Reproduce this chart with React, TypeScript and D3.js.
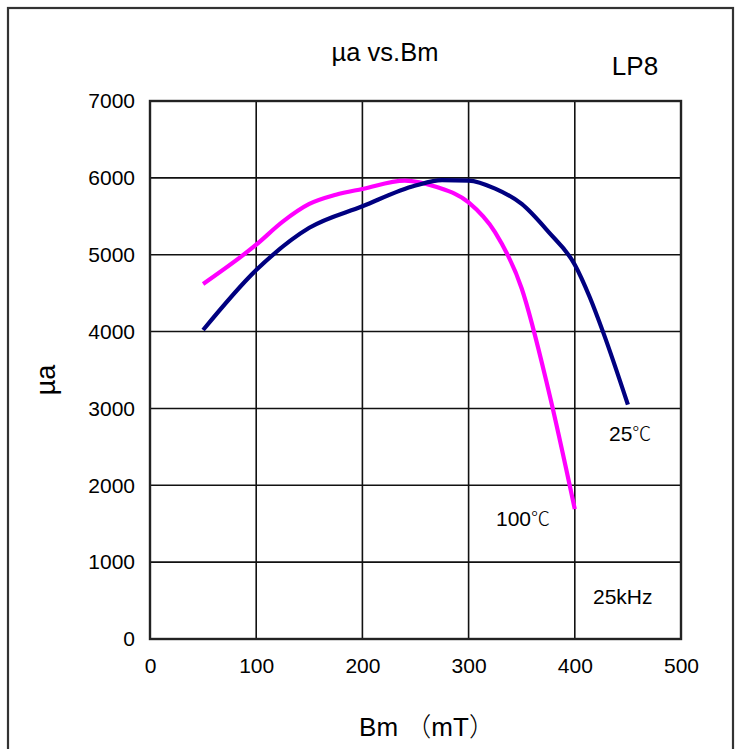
import * as d3 from "d3";
import React, { useEffect, useRef } from "react";

// Bm (mT) and ua values
const bm25 = [50, 100, 150, 200, 250, 275, 300, 325, 350, 375, 400, 414, 427, 450];
const mu25 = [4020, 4800, 5350, 5630, 5900, 5970, 5965, 5860, 5660, 5300, 4870, 4450, 3980, 3050];

const bm100 = [50, 100, 125, 150, 175, 200, 240, 270, 300, 325, 350, 375, 400];
const mu100 = [4620, 5130, 5430, 5660, 5780, 5855, 5965, 5880, 5680, 5290, 4560, 3250, 1690];

const xTicks = [0, 100, 200, 300, 400, 500];
const yTicks = [0, 1000, 2000, 3000, 4000, 5000, 6000, 7000];

const FONT = "Arial, 'Liberation Sans', sans-serif";

const App = () => {
  const svgRef = useRef<SVGSVGElement>(null);

  useEffect(() => {
    const width = 743;
    const height = 749;
    const svg = d3.select(svgRef.current);
    svg.selectAll("*").remove();
    svg.attr("width", width).attr("height", height);

    svg.append("rect")
      .attr("width", width).attr("height", height).attr("fill", "white");

    // outer frame (runs past the bottom edge)
    svg.append("rect")
      .attr("x", 8).attr("y", 8)
      .attr("width", 725).attr("height", 780)
      .attr("fill", "none")
      .attr("stroke", "#333")
      .attr("stroke-width", 2.2);

    const x = d3.scaleLinear().domain([0, 500]).range([150, 681]);
    const y = d3.scaleLinear().domain([0, 7000]).range([639, 101]);

    // grid
    const grid = svg.append("g");
    xTicks.slice(1, -1).forEach(t => {
      grid.append("line")
        .attr("x1", x(t)).attr("x2", x(t))
        .attr("y1", y(0)).attr("y2", y(7000))
        .attr("stroke", "#111").attr("stroke-width", 1.6);
    });
    yTicks.slice(1, -1).forEach(t => {
      grid.append("line")
        .attr("x1", x(0)).attr("x2", x(500))
        .attr("y1", y(t)).attr("y2", y(t))
        .attr("stroke", "#111").attr("stroke-width", 1.6);
    });

    // plot frame
    svg.append("rect")
      .attr("x", x(0)).attr("y", y(7000))
      .attr("width", x(500) - x(0)).attr("height", y(0) - y(7000))
      .attr("fill", "none")
      .attr("stroke", "#222")
      .attr("stroke-width", 2.4);

    // axes (labels only)
    const xAxis = svg.append("g")
      .attr("transform", `translate(0, ${y(0)})`)
      .call(d3.axisBottom(x).tickValues(xTicks).tickSize(0).tickPadding(19));
    xAxis.select(".domain").remove();
    xAxis.selectAll("text")
      .attr("fill", "#000")
      .attr("dy", "0.71em")
      .style("font-family", FONT)
      .style("font-size", "21px");

    const yAxis = svg.append("g")
      .attr("transform", `translate(${x(0)}, 0)`)
      .call(d3.axisLeft(y).tickValues(yTicks).tickSize(0).tickPadding(15)
        .tickFormat(d => String(d)));
    yAxis.select(".domain").remove();
    yAxis.selectAll("text")
      .attr("fill", "#000")
      .style("font-family", FONT)
      .style("font-size", "21px");

    // curves
    const line = d3.line<[number, number]>()
      .x(d => x(d[0]))
      .y(d => y(d[1]))
      .curve(d3.curveMonotoneX);

    svg.append("path")
      .datum(bm100.map((b, i) => [b, mu100[i]] as [number, number]))
      .attr("fill", "none")
      .attr("stroke", "#ff00ff")
      .attr("stroke-width", 4.2)
      .attr("d", line);

    svg.append("path")
      .datum(bm25.map((b, i) => [b, mu25[i]] as [number, number]))
      .attr("fill", "none")
      .attr("stroke", "#000080")
      .attr("stroke-width", 4.2)
      .attr("d", line);

    // titles and notes
    svg.append("text")
      .attr("x", 385).attr("y", 61)
      .attr("text-anchor", "middle")
      .style("font-family", FONT).style("font-size", "25.5px")
      .text("µa vs.Bm");

    svg.append("text")
      .attr("x", 635).attr("y", 75)
      .attr("text-anchor", "middle")
      .style("font-family", FONT).style("font-size", "26px")
      .text("LP8");

    svg.append("text")
      .attr("transform", "translate(55, 380) rotate(-90)")
      .attr("text-anchor", "middle")
      .style("font-family", FONT).style("font-size", "27px")
      .text("µa");

    const xLabel = svg.append("text")
      .attr("x", 427).attr("y", 736)
      .attr("text-anchor", "middle")
      .style("font-family", FONT).style("font-size", "26px");
    xLabel.append("tspan").text("Bm ");
    xLabel.append("tspan").style("font-family", "'Noto Sans CJK SC'").style("font-weight", 300).text("（");
    xLabel.append("tspan").text("mT");
    xLabel.append("tspan").style("font-family", "'Noto Sans CJK SC'").style("font-weight", 300).text("）");

    const tempLabel = (tx: number, ty: number, num: string) => {
      const t = svg.append("text")
        .attr("x", tx).attr("y", ty)
        .style("font-family", FONT).style("font-size", "21px");
      t.append("tspan").text(num);
      t.append("tspan")
        .style("font-family", "'Noto Sans CJK SC'")
        .style("font-weight", 300)
        .style("font-size", "19px")
        .text("℃");
    };
    tempLabel(609, 441, "25");
    tempLabel(496, 526, "100");

    svg.append("text")
      .attr("x", 593).attr("y", 604)
      .style("font-family", FONT).style("font-size", "21px")
      .text("25kHz");
  }, []);

  return (
    <svg ref={svgRef} style={{ position: "absolute", left: 0, top: 0 }}></svg>
  );
};

export default App;
